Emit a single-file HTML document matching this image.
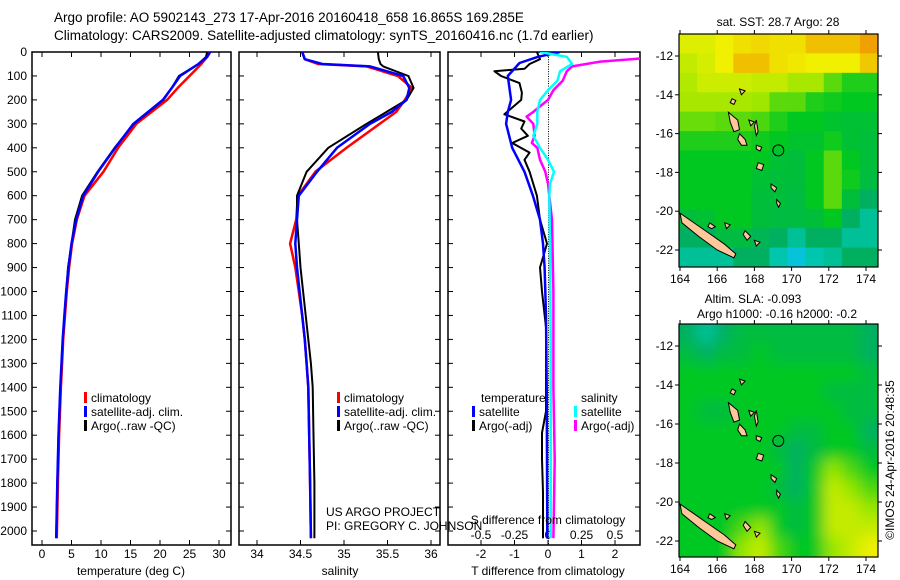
<!DOCTYPE html>
<html><head><meta charset="utf-8">
<style>
html,body{margin:0;padding:0;background:#fff;}
svg{display:block;font-family:"Liberation Sans",sans-serif;}
text{fill:#000;}
</style></head>
<body>
<svg id="fig" width="900" height="580" viewBox="0 0 900 580" xmlns="http://www.w3.org/2000/svg">
<text x="54" y="22" font-size="13.5">Argo profile: AO 5902143_273 17-Apr-2016 20160418_658 16.865S 169.285E</text>
<text x="54" y="40" font-size="13.5">Climatology: CARS2009. Satellite-adjusted climatology: synTS_20160416.nc (1.7d earlier)</text>
<g id="g"></g>
</svg>
<script>
// ---- profile data ----
const tDepth   = [0,20,50,100,150,200,300,400,500,600,700,800,900,1000,1100,1200,1300,1400,1600,1800,2030];
const tClim    = [28.3,28,27,25,23,21.2,16,12.9,10.4,7.2,5.9,5.1,4.6,4.2,3.9,3.6,3.4,3.2,2.9,2.7,2.5];
const tSat     = [28.5,28,26.5,23.4,22,20.5,15.5,12.4,9.5,7,5.8,5,4.5,4.1,3.8,3.5,3.3,3.1,2.8,2.6,2.4];
const tArgo    = [28,27.8,26.5,23.2,22,20.6,15.6,12.3,9.4,6.8,5.6,5.0,4.4,4.1,3.8,3.5,3.3,3.1,2.8,2.6,2.4];
const sDepth   = [0,30,50,60,100,150,200,250,300,400,500,600,700,800,900,1000,1100,1200,1300,1400,1600,1800,2030];
const sClim    = [34.52,34.55,34.7,35.26,35.62,35.78,35.7,35.6,35.41,35.03,34.67,34.47,34.45,34.38,34.44,34.48,34.52,34.55,34.57,34.59,34.6,34.61,34.62];
const sSat     = [34.52,34.55,34.75,35.3,35.68,35.75,35.72,35.55,35.3,34.92,34.69,34.48,34.46,34.44,34.46,34.49,34.52,34.55,34.57,34.59,34.6,34.61,34.62];
const sArgo    = [35.39,35.4,35.42,35.45,35.74,35.8,35.72,35.49,35.26,34.82,34.57,34.46,34.46,34.48,34.5,34.53,34.56,34.59,34.62,34.64,34.65,34.66,34.66];
const dtDepth  = [0,30,50,70,80,100,130,170,200,260,290,320,350,380,420,450,500,600,700,800,900,1000,1150,1500,1590,1700,1840,2030];
const dtArgo   = [-0.33,-0.24,-0.55,-0.7,-1.6,-1.4,-0.85,-0.78,-0.8,-1.3,-0.7,-0.8,-0.6,-1.07,-0.55,-0.7,-0.55,-0.33,-0.24,-0.03,-0.24,-0.18,-0.06,-0.06,-0.18,-0.18,-0.15,-0.15];
const dtSatDepth = [0,20,46,100,200,250,300,400,500,600,700,800,900,1100,1400,1700,2030];
const dtSat    = [0.35,-0.3,-0.85,-1.2,-1.1,-1.2,-1.25,-1.07,-0.7,-0.45,-0.24,-0.15,-0.1,-0.06,-0.04,-0.03,-0.02];
const dsDepth  = [0,20,50,80,120,160,200,250,300,350,400,450,500,550,600,800,1200,1600,2030];
const dsSat    = [-0.06,0.14,0.18,0.09,0.07,0,-0.06,-0.08,-0.08,-0.11,-0.06,0,0.045,0.015,0.01,0.015,0.02,0.02,0.02];
const dsArgoDepth = [0,25,40,60,80,120,160,200,250,270,300,350,380,400,450,500,550,600,700,1000,1400,1700,2030];
const dsArgo   = [1.1,0.74,0.39,0.18,0.14,0.11,0.04,0,-0.11,-0.16,-0.11,-0.1,-0.12,-0.08,-0.06,-0.02,0,0.01,0.03,0.04,0.04,0.05,0.04];
const depthTicks = [0,100,200,300,400,500,600,700,800,900,1000,1100,1200,1300,1400,1500,1600,1700,1800,1900,2000];
const tTicks = [0,5,10,15,20,25,30];
const sTicks = [34,34.5,35,35.5,36];
const dtTicks = [-2,-1,0,1,2];
const dsTicks = [-0.5,-0.25,0,0.25,0.5];
const dsTickLabels = ["-0.5","-0.25","0","0.25","0.5"];
// ---- map data (colour index 0 blue .. 6 orange), rows lat -11..-22, cols lon 164..174 ----
const sstGrid = [
[4.8,4.8,5,5.2,5.3,5.2,5.2,5.6,5.6,5.6,6],
[4.5,4.7,5,5.6,5.6,5.2,5.1,5,5,5,5.5],
[4.3,4.6,4.6,4.6,4.5,4.5,4.2,4.2,3.6,3.2,3.2],
[4.2,4.2,4.2,4.2,4.1,3.6,3.6,3.2,3.1,3,3],
[3.7,3.7,3.6,3.6,3.5,3.2,3,3,2.8,2.7,2.7],
[3.2,3.2,3.2,3.2,3.1,3,2.8,2.8,3.1,2.7,2.6],
[3,3,3,3,3,2.7,2.6,3,3.6,3,2.6],
[3,3,3,3,2.7,2.6,2.6,3,3.6,3.1,2.5],
[3,3,3,3,2.6,2.6,2.5,3,3.6,2.6,2],
[2.6,2.7,3,3,2.6,2.5,2.5,2.6,3,2,1.5],
[2,2,2.5,2.5,2.2,2,1.5,2,2,1.5,1.5],
[1.5,1.5,1.5,2,2,1.3,0.8,1.3,1.5,2,2]];
const slaGrid = [
[2,1.5,2,2.5,2.5,2.5,2.5,2.5,2.5,2.5,2],
[2.5,2,2.5,2.5,3,2.5,2.5,2.5,2.5,2.5,2],
[3,3,3,3,3,3,3,3,3,3,2.5],
[3,3,3,3,3,3,3,3,2.5,2.5,2.5],
[3,2.5,2.5,3,3,3,3,3,3,2.5,2.5],
[3,3,3,3,3,3,2.5,2.5,3,3,2],
[3,3,3,3,3,2.5,2,2.5,3,3,2.5],
[3,3,3,3,3,3,2,3,4,3.5,3],
[3,3,3,3,3,2.5,2,3,4.5,4,3.5],
[3,3,3,3,3,3,2.5,3,4.5,4.5,4],
[3,3,3,3.5,4,3,2.5,3,4.5,4.5,4.5],
[3,3,3,4,4.5,3.5,3,3,4,4.5,5]];
const lonTicks = [164,166,168,170,172,174];
const latTicks = [-12,-14,-16,-18,-20,-22];
const islands = [
 [[164,-20.1],[164.6,-20.5],[165.5,-21.1],[166.4,-21.7],[167,-22.2],[166.9,-22.4],[166,-22],[165,-21.3],[164.1,-20.6]],
 [[166.6,-14.9],[167.1,-15.3],[167.2,-15.8],[166.9,-15.9],[166.7,-15.4]],
 [[167.2,-16],[167.5,-16.3],[167.6,-16.6],[167.3,-16.6],[167.1,-16.3]],
 [[168.1,-15.3],[168.2,-15.9],[168.1,-16.1],[168.0,-15.6]],
 [[168.1,-16.6],[168.4,-16.7],[168.3,-16.9],[168.1,-16.8]],
 [[168.2,-17.5],[168.5,-17.6],[168.4,-17.9],[168.1,-17.8]],
 [[168.9,-18.6],[169.2,-18.8],[169.1,-19.0],[168.9,-18.8]],
 [[169.2,-19.4],[169.4,-19.6],[169.3,-19.8],[169.2,-19.6]],
 [[167.7,-15.3],[168,-15.4],[167.8,-15.6]],
 [[167.5,-21.0],[167.8,-21.3],[167.6,-21.5],[167.4,-21.2]],
 [[168.0,-21.5],[168.3,-21.6],[168.1,-21.8]],
 [[165.6,-20.6],[165.9,-20.8],[165.7,-20.9],[165.5,-20.8]],
 [[166.4,-20.6],[166.7,-20.7],[166.5,-20.9]],
 [[166.8,-14.2],[167.0,-14.3],[166.9,-14.5],[166.7,-14.4]],
 [[167.2,-13.7],[167.5,-13.8],[167.3,-14.0]]
];
const floatPos = [169.285,-16.865];

const NS="http://www.w3.org/2000/svg";
const G=document.getElementById('g');
function mk(tag,attrs,parent){const e=document.createElementNS(NS,tag);for(const k in attrs)e.setAttribute(k,attrs[k]);(parent||G).appendChild(e);return e;}
function txt(x,y,s,size,anchor,parent){const e=mk('text',{x:x,y:y,'font-size':size,'text-anchor':anchor||'start'},parent);e.textContent=s;return e;}

const Y0=52, PY=0.2395, YB=545;
const yD=d=>Y0+d*PY;
const xT=v=>42+5.9*v;
const xS=v=>257+87*(v-34);
const xDT=v=>548+33.5*v;
const xDS=v=>548+134*v;

function panel(name,x0,x1){
  const r=mk('rect',{x:x0,y:Y0,width:x1-x0,height:YB-Y0,fill:'none',stroke:'#000','stroke-width':1.5});
  
  
  depthTicks.forEach(d=>{mk('line',{x1:x0,x2:x0+5,y1:yD(d),y2:yD(d),stroke:'#000'});mk('line',{x1:x1-5,x2:x1,y1:yD(d),y2:yD(d),stroke:'#000'});});
}
function xticks(vals,fx,labels,ly,size){
  vals.forEach((v,i)=>{const x=fx(v);mk('line',{x1:x,x2:x,y1:YB,y2:YB-5,stroke:'#000'});mk('line',{x1:x,x2:x,y1:Y0,y2:Y0+5,stroke:'#000'});
    const t=txt(x,ly,labels?labels[i]:String(v),size||12,'middle');});
}
function series(name,depths,vals,fx,color,clipId,w){
  const p=depths.map((d,i)=>fx(vals[i]).toFixed(1)+','+yD(d).toFixed(1)).join(' ');
  const e=mk('polyline',{points:p,fill:'none',stroke:color,'stroke-width':w||2.5,'stroke-linejoin':'round','clip-path':'url(#'+clipId+')'});
  
  
}
const defs=mk('defs',{});
const flt=mk('filter',{id:'blur',x:'-5%',y:'-5%',width:'110%',height:'110%'},defs);
mk('feGaussianBlur',{stdDeviation:7},flt);
[['c1',32,231],['c2',239,440],['c3',448,640]].forEach(c=>{const cp=mk('clipPath',{id:c[0]},defs);mk('rect',{x:c[1],y:Y0,width:c[2]-c[1],height:YB-Y0},cp);});

// y-axis labels
depthTicks.forEach(d=>{const t=txt(27,yD(d)+4,String(d),12,'end');});

// panel 1 temperature
panel('temperature-panel',32,231);
xticks(tTicks,xT,null,558);
let t=txt(131,575,'temperature (deg C)',12,'middle');
series('temp-climatology',tDepth,tClim,xT,'#ff0000','c1');
series('temp-argo',tDepth,tArgo,xT,'#000000','c1',2);
series('temp-satellite',tDepth,tSat,xT,'#0000ff','c1');

// panel 2 salinity
panel('salinity-panel',239,440);
xticks(sTicks,xS,null,558);
t=txt(340,575,'salinity',12,'middle');
series('sal-climatology',sDepth,sClim,xS,'#ff0000','c2');
series('sal-argo',sDepth,sArgo,xS,'#000000','c2',2);
series('sal-satellite',sDepth,sSat,xS,'#0000ff','c2');

// panel 3 differences
panel('difference-panel',448,640);
for(let d=0;d<=2050;d+=10){mk('rect',{x:548,y:yD(d),width:1,height:1,fill:'#000'});}
xticks(dtTicks,xDT,null,558);
dsTicks.forEach((v,i)=>{const tt=txt(xDS(v),539,dsTickLabels[i],12,'middle');});
series('dT-argo',dtDepth,dtArgo,xDT,'#000000','c3',2);
series('dT-satellite',dtSatDepth,dtSat,xDT,'#0000ff','c3');
series('dS-argo',dsArgoDepth,dsArgo,xDS,'#ff00ff','c3');
series('dS-satellite',dsDepth,dsSat,xDS,'#00ffff','c3');
t=txt(548,524,'S difference from climatology',12,'middle');
t=txt(548,575,'T difference from climatology',12,'middle');

// legends
function legend(x,y,color,label){const r=mk('rect',{x:x,y:y-10,width:3,height:11,fill:color});
 const tt=txt(x+7,y,label,12);}
legend(84,402,'#ff0000','climatology');legend(84,416,'#0000ff','satellite-adj. clim.');legend(84,430,'#000000','Argo(..raw -QC)');
legend(337,402,'#ff0000','climatology');legend(337,416,'#0000ff','satellite-adj. clim.');legend(337,430,'#000000','Argo(..raw -QC)');
t=txt(481,402,'temperature',12);
t=txt(581,402,'salinity',12);
legend(472,416,'#0000ff','satellite');legend(472,430,'#000000','Argo(-adj)');
legend(574,416,'#00ffff','satellite');legend(574,430,'#ff00ff','Argo(-adj)');
t=txt(326,516,'US ARGO PROJECT',12);
t=txt(326,530,'PI: GREGORY C. JOHNSON',12);

// ---- maps ----
const stops=[[0,[32,144,255]],[1,[0,208,208]],[2,[0,176,96]],[3,[0,200,32]],[4,[150,230,0]],[5,[240,240,0]],[6,[240,160,0]]];
function cmap(v){for(let i=0;i<stops.length-1;i++){const a=stops[i],b=stops[i+1];if(v<=b[0]){const f=(v-a[0])/(b[0]-a[0]);const c=a[1].map((q,k)=>Math.round(q+(b[1][k]-q)*f));return 'rgb('+c.join(',')+')';}}return 'rgb(240,160,0)';}
function drawMap(name,top,bottom,grid,lat12y,lat22y,smooth){
  const X0=679,X1=878;
  const lx=l=>680+(l-164)*18.6;
  const ly=l=>lat12y+(-12-l)*(lat22y-lat12y)/10;
  const gm=mk('g',{});
  const cid=name+'-clip';const cp=mk('clipPath',{id:cid},defs);mk('rect',{x:X0,y:top,width:X1-X0,height:bottom-top},cp);
  const clipG=mk('g',{'clip-path':'url(#'+cid+')'},gm);
  const cells=mk('g',smooth?{filter:'url(#blur)'}:{},clipG);
  const cw=(X1-X0)/11, ch=(bottom-top)/12;
  const pad=smooth?20:0;
  grid.forEach((row,r)=>row.forEach((v,c)=>{
    let x=X0+c*cw, y=top+r*ch, w=cw+0.6, h=ch+0.6;
    if(c===0){x-=pad;w+=pad;} if(c===10){w+=pad;} if(r===0){y-=pad;h+=pad;} if(r===11){h+=pad;}
    const cell=mk('rect',{x:x,y:y,width:w,height:h,fill:cmap(v)},cells);
    
  }));
  islands.forEach(poly=>{const p=poly.map(q=>lx(q[0]).toFixed(1)+','+ly(q[1]).toFixed(1)).join(' ');
    const e=mk('polygon',{points:p,fill:'#ffc89a',stroke:'#000','stroke-width':1},clipG);});
  const c=mk('circle',{cx:lx(floatPos[0]),cy:ly(floatPos[1]),r:5.5,fill:'none',stroke:'#000','stroke-width':1},gm);
  
  mk('rect',{x:X0,y:top,width:X1-X0,height:bottom-top,fill:'none',stroke:'#000','stroke-width':1.2},gm);
  lonTicks.forEach(l=>{const x=lx(l);mk('line',{x1:x,x2:x,y1:top,y2:top-4,stroke:'#000'},gm);mk('line',{x1:x,x2:x,y1:bottom,y2:bottom+4,stroke:'#000'},gm);
    const tt=txt(x,bottom+16,String(l),12,'middle',gm);});
  latTicks.forEach(l=>{const y=ly(l);mk('line',{x1:X0,x2:X0-4,y1:y,y2:y,stroke:'#000'},gm);mk('line',{x1:X1,x2:X1+4,y1:y,y2:y,stroke:'#000'},gm);
    const tt=txt(673,y+4,String(l),12,'end',gm);});
}
drawMap('sst-map',34,267,sstGrid,56,250,false);
drawMap('sla-map',324,557,slaGrid,346,541,true);
t=txt(778,26,'sat. SST: 28.7 Argo: 28',12,'middle');
t=txt(753,303,'Altim. SLA: -0.093',12,'middle');
t=txt(777,318,'Argo h1000: -0.16 h2000: -0.2',12,'middle');
t=txt(0,0,'\u00a9IMOS 24-Apr-2016 20:48:35',12,'middle');t.setAttribute('transform','translate(894,460) rotate(-90)');

</script>
</body></html>
